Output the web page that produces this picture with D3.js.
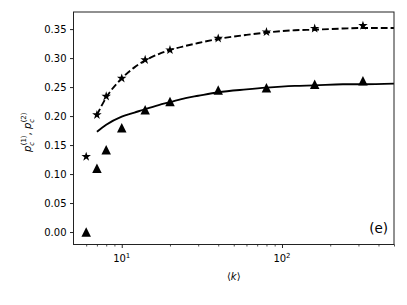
<!DOCTYPE html>
<html><head><meta charset="utf-8">
<script src="https://cdn.jsdelivr.net/npm/d3@7"></script>
<style>body{margin:0;background:#fff}svg{display:block}text{font-family:"DejaVu Sans",sans-serif}</style>
</head><body><svg id="c" width="407" height="305"></svg>
<script>
// data
const kPoints = [6, 7, 8, 10, 14, 20, 40, 80, 160, 320];
const pc1Points = [0.000, 0.110, 0.142, 0.180, 0.211, 0.225, 0.245, 0.249, 0.255, 0.261];
const pc2Points = [0.130, 0.202, 0.234, 0.265, 0.297, 0.314, 0.334, 0.345, 0.351, 0.356];
const kCurve = [7, 8, 10, 12, 14, 17, 20, 25, 30, 40, 60, 80, 120, 160, 240, 320, 500];
const pc1Curve = [0.173, 0.185, 0.199, 0.206, 0.212, 0.219, 0.224, 0.231, 0.235, 0.241, 0.246, 0.249, 0.252, 0.253, 0.255, 0.255, 0.256];
const pc2Curve = [0.202, 0.232, 0.265, 0.284, 0.296, 0.307, 0.314, 0.321, 0.326, 0.333, 0.340, 0.344, 0.348, 0.349, 0.351, 0.352, 0.352];
const yTicks = [0.00, 0.05, 0.10, 0.15, 0.20, 0.25, 0.30, 0.35];
const xMajor = [10, 100];
const xMinor = [6,7,8,9,20,30,40,50,60,70,80,90,200,300,400,500];
const panelLabel = "(e)";

const L = 73.5, R = 394, T = 12, B = 244.5;
const svg = d3.select("#c");
const x = d3.scaleLog().domain([5, 500]).range([L, R]);
const y = d3.scaleLinear().domain([-0.0215, 0.3795]).range([B, T]);

// curves
const line = (vals) => d3.line().x((d,i)=>x(kCurve[i])).y((d)=>y(d)).curve(d3.curveMonotoneX)(vals);
svg.append("path").attr("d", line(pc2Curve)).attr("fill","none").attr("stroke","#000")
  .attr("stroke-width",1.9).attr("stroke-dasharray","6.8,3");
svg.append("path").attr("d", line(pc1Curve)).attr("fill","none").attr("stroke","#000")
  .attr("stroke-width",1.9);

// markers
const ts = 9.5;
svg.append("g").selectAll("path").data(pc1Points).join("path")
  .attr("transform",(d,i)=>`translate(${x(kPoints[i])},${y(d)})`)
  .attr("d",`M0,${-ts/2}L${-ts/2},${ts/2}L${ts/2},${ts/2}Z`).attr("fill","#000");
function star(r){
  const ri = r*0.381966, pts=[];
  for(let i=0;i<10;i++){const a=-Math.PI/2+i*Math.PI/5;const rr=i%2?ri:r;pts.push([rr*Math.cos(a),rr*Math.sin(a)]);}
  return "M"+pts.map(p=>p[0].toFixed(2)+","+p[1].toFixed(2)).join("L")+"Z";
}
svg.append("g").selectAll("path").data(pc2Points).join("path")
  .attr("transform",(d,i)=>`translate(${x(kPoints[i])},${y(d)})`)
  .attr("d",star(5)).attr("fill","#000");

// axes frame
svg.append("rect").attr("x",L).attr("y",T).attr("width",R-L).attr("height",B-T)
  .attr("fill","none").attr("stroke","#222").attr("stroke-width",1);

// y axis
const ya = svg.append("g").attr("transform",`translate(${L},0)`)
  .call(d3.axisLeft(y).tickValues(yTicks).tickFormat(d3.format(".2f")).tickSize(3.5).tickPadding(3.5));
ya.select(".domain").remove();
ya.selectAll("text").attr("font-size",10).attr("fill","#000").style("font-family","DejaVu Sans");
ya.selectAll("line").attr("stroke","#222");

// x axis
const xa = svg.append("g").attr("transform",`translate(0,${B})`)
  .call(d3.axisBottom(x).tickValues(xMajor).tickFormat("").tickSize(3.5));
xa.select(".domain").remove();
xa.selectAll("line").attr("stroke","#222");
const xm = svg.append("g").attr("transform",`translate(0,${B})`)
  .call(d3.axisBottom(x).tickValues(xMinor).tickFormat("").tickSize(2));
xm.select(".domain").remove();
xm.selectAll("line").attr("stroke","#222").attr("stroke-width",0.8);
xMajor.forEach(v=>{
  const t = svg.append("text").attr("x",x(v)).attr("y",B+17).attr("text-anchor","middle")
    .attr("font-size",10).attr("fill","#000");
  t.append("tspan").text("10");
  t.append("tspan").attr("dy",-4).attr("font-size",7).text(Math.round(Math.log10(v)));
});

// x label
const xl = svg.append("text").attr("x",(L+R)/2).attr("y",280).attr("text-anchor","middle")
  .attr("font-size",10).attr("fill","#000");
xl.append("tspan").text("\u27E8");
xl.append("tspan").attr("font-style","italic").text("k");
xl.append("tspan").text("\u27E9");

// y label
const yl = svg.append("text").attr("transform",`translate(31,${(T+B)/2+4}) rotate(-90)`)
  .attr("text-anchor","middle").attr("font-size",10).attr("fill","#000");
yl.append("tspan").attr("font-style","italic").text("p");
yl.append("tspan").attr("font-style","italic").attr("font-size",7).attr("dy",2.5).text("c");
yl.append("tspan").attr("font-size",7).attr("dy",-7.5).attr("dx",-3.5).text("(1)");
yl.append("tspan").attr("dy",5).text(", ");
yl.append("tspan").attr("font-style","italic").text("p");
yl.append("tspan").attr("font-style","italic").attr("font-size",7).attr("dy",2.5).text("c");
yl.append("tspan").attr("font-size",7).attr("dy",-7.5).attr("dx",-3.5).text("(2)");

// panel label
svg.append("text").attr("x",388).attr("y",233).attr("text-anchor","end")
  .attr("font-size",13.5).attr("fill","#000").text(panelLabel);
</script></body></html>
